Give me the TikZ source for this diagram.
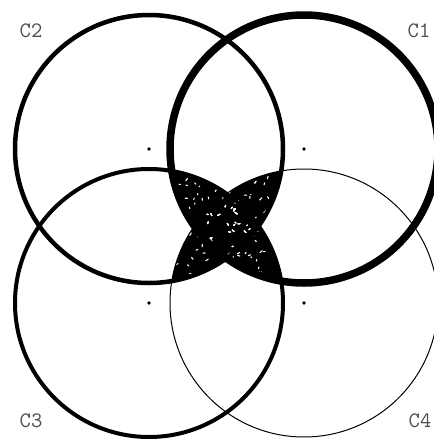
\documentclass[tikz,border=0pt]{standalone}
\begin{document}
\begin{tikzpicture}[x=1pt,y=-1pt,
  lbl/.style={font=\fontsize{22}{22}\selectfont\ttfamily, text=black!70, inner sep=0pt},
  ctr/.style={circle, fill=black, inner sep=0pt, minimum size=3.6pt},
  ringA/.style={draw=black, line width=7.5pt},
  ringB/.style={draw=black, line width=4.5pt},
  ringC/.style={draw=black, line width=4pt},
  ringD/.style={draw=black, line width=1pt}]
\useasboundingbox (0,0) rectangle (434,440);
\def\R{134pt}
\coordinate (p1) at (304,149);
\coordinate (p2) at (149,149);
\coordinate (p3) at (149,303);
\coordinate (p4) at (304,303);
% region inside at least three circles
\foreach \a/\b/\c in {p1/p2/p3, p1/p2/p4, p1/p3/p4, p2/p3/p4} {
  \begin{scope}
    \clip (\a) circle (\R);
    \clip (\b) circle (\R);
    \fill[black] (\c) circle (\R);
  \end{scope}
}
\foreach \a/\b/\c in {p1/p2/p3, p1/p2/p4, p1/p3/p4, p2/p3/p4} {
  \begin{scope}
    \clip (\a) circle (\R);
    \clip (\b) circle (\R);
    \clip (\c) circle (\R);
    \pgfmathsetseed{11}
    \foreach \i in {1,...,110} {
      \pgfmathsetmacro\xx{178+98*rnd}
      \pgfmathsetmacro\yy{178+98*rnd}
      \pgfmathsetmacro\dx{2.5*rand}
      \pgfmathsetmacro\dy{2.5*rand}
      \draw[white, line width=1.1pt, line cap=round] (\xx,\yy) -- ++(\dx,\dy);
    }
  \end{scope}
}
\draw[ringD] (p4) circle (\R);
\draw[ringC] (p3) circle (\R);
\draw[ringB] (p2) circle (\R);
\draw[ringA] (p1) circle (\R);
\node[ctr] (d1) at (p1) {};
\node[ctr] (d2) at (p2) {};
\node[ctr] (d3) at (p3) {};
\node[ctr] (d4) at (p4) {};
\node[lbl] (l1) at (419,31) {C1};
\node[lbl] (l2) at (31,31) {C2};
\node[lbl] (l3) at (31,421) {C3};
\node[lbl] (l4) at (420,421) {C4};
\end{tikzpicture}
\end{document}
